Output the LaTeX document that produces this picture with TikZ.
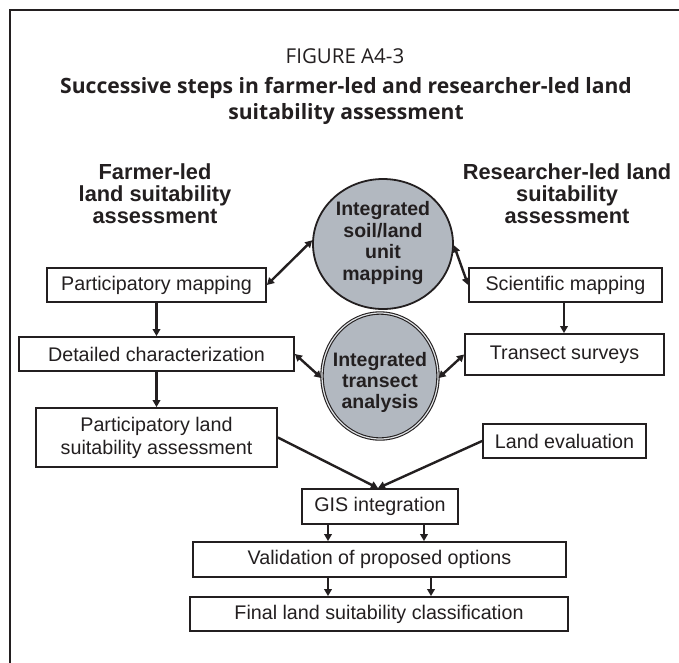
\documentclass[tikz,border=0pt]{standalone}
\usepackage{fontspec}
\setmainfont{Liberation Sans}
\newfontfamily\titlefont{Open Sans}
\usetikzlibrary{shapes.geometric,arrows.meta,calc}
\definecolor{ink}{RGB}{35,31,32}
\definecolor{bubble}{RGB}{178,184,192}
\begin{document}
\begin{tikzpicture}[x=1pt,y=-1pt,
  box/.style={draw=ink, line width=1.8pt, fill=white, inner sep=0pt, text=ink, align=center,
    font=\fontsize{19.7}{23}\selectfont},
  head/.style={text=ink, align=center, inner sep=0pt, font=\fontsize{21.8}{22}\selectfont\bfseries},
  bubtext/.style={text=ink, align=center, inner sep=0pt, font=\fontsize{19.5}{21.7}\selectfont\bfseries},
  arr/.style={draw=ink, line width=2.4pt, -{Triangle[length=7pt,width=7.5pt]}},
  darr/.style={draw=ink, line width=2.4pt, {Triangle[length=7pt,width=7.5pt]}-{Triangle[length=7pt,width=7.5pt]}}
]
\useasboundingbox (0,0) rectangle (679,662);
\fill[white] (0,0) rectangle (679,662);
% frame
\draw[ink, line width=2.5pt] (10,670) -- (10,10) -- (690,10);
% titles
\node[text=ink, inner sep=0pt, anchor=base, font=\fontsize{20.5}{22}\selectfont\titlefont] (fig) at (345,63) {FIGURE A4-3};
\node[text=ink, inner sep=0pt, anchor=base, font=\fontsize{21.1}{26}\selectfont\titlefont\bfseries] (t1) at (346,93) {Successive steps in farmer-led and researcher-led land};
\node[text=ink, inner sep=0pt, anchor=base, font=\fontsize{21.1}{26}\selectfont\titlefont\bfseries] (t2) at (346,119) {suitability assessment};
% column headings
\node[head] (hf) at (155,194) {Farmer-led\\land suitability\\assessment};
\node[head] (hr) at (567,194) {Researcher-led land\\suitability\\assessment};
% bubbles
\node[ellipse, draw=ink, line width=1.8pt, fill=bubble, minimum width=140pt, minimum height=130pt, inner sep=0pt] (c1) at (383,244) {};
\node[bubtext] (c1t) at (383,243) {Integrated\\soil/land\\unit\\mapping};
\node[ellipse, draw=ink, line width=1.1pt, double=bubble!40!white, double distance=1.2pt, fill=bubble, minimum width=116pt, minimum height=126pt, inner sep=0pt] (c2) at (380,376) {};
\node[bubtext, font=\fontsize{19.5}{21}\selectfont\bfseries] (c2t) at (380,382) {Integrated\\transect\\analysis};
% boxes
\node[box, minimum width=219pt, minimum height=34pt] (pm) at (156.5,285) {Participatory mapping};
\node[box, minimum width=275pt, minimum height=34pt] (dc) at (156.5,354) {Detailed characterization};
\node[box, minimum width=241pt, minimum height=59pt] (pl) at (156.5,437.5) {Participatory land\\suitability assessment};
\node[box, minimum width=193pt, minimum height=34pt] (sm) at (565.5,285) {Scientific mapping};
\node[box, minimum width=199pt, minimum height=41pt] (ts) at (564.5,354.5) {Transect surveys};
\node[box, minimum width=163pt, minimum height=34pt] (le) at (564.5,441) {Land evaluation};
\node[box, minimum width=156pt, minimum height=35pt] (gis) at (380,506.5) {GIS integration};
\node[box, minimum width=373pt, minimum height=35pt] (val) at (379.5,559.5) {Validation of proposed options};
\node[box, minimum width=378pt, minimum height=34pt] (fin) at (379,614) {Final land suitability classification};
% connectors
\draw[arr] (pm.south) -- (dc.north);
\draw[arr] (dc.south) -- (pl.north);
\draw[arr] ([xshift=-1.5pt]sm.south) -- ([xshift=-1.5pt]sm.south |- ts.north);
\draw[darr] (pm.east) -- (c1.177);
\draw[darr] (c1.359) -- (sm.west);
\draw[darr] (dc.east) -- (c2.182);
\draw[darr] (ts.west) -- (c2.358);
\coordinate (gtop) at ([xshift=-2pt]gis.north);
\draw[arr] (pl.east) -- (gtop);
\draw[arr] (le.west) -- (gtop);
\draw[arr] ([xshift=-52pt]gis.south) -- ([xshift=-52pt]gis.south |- val.north);
\draw[arr] ([xshift=44pt]gis.south) -- ([xshift=44pt]gis.south |- val.north);
\draw[arr] ([xshift=-51.5pt]val.south) -- ([xshift=-51.5pt]val.south |- fin.north);
\draw[arr] ([xshift=51.5pt]val.south) -- ([xshift=51.5pt]val.south |- fin.north);
\end{tikzpicture}
\end{document}
